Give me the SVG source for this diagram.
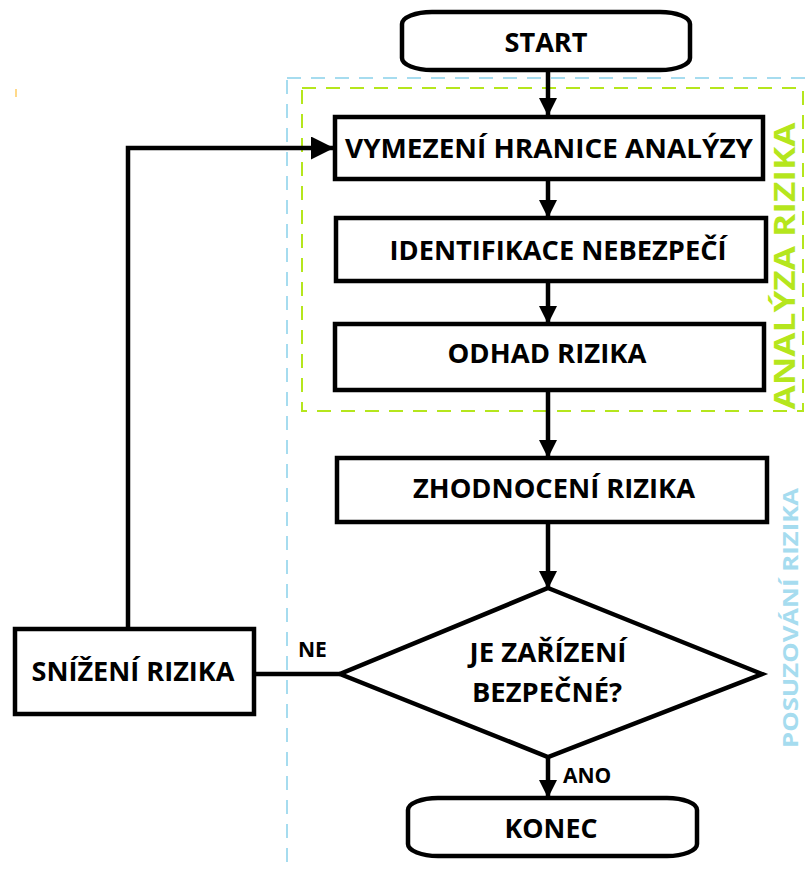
<svg xmlns="http://www.w3.org/2000/svg" width="806" height="870" viewBox="0 0 806 870">
<style>
.box{fill:#fff;stroke:#000;stroke-width:4.5}
.t{font-family:"Open Sans","Liberation Sans",sans-serif;font-weight:700;font-size:27px;fill:#000;text-anchor:middle}
.s{font-size:21px;text-anchor:start}
.c{fill:none;stroke:#000;stroke-width:4.5}
</style>
<defs>
<marker id="ah" markerUnits="userSpaceOnUse" markerWidth="18" markerHeight="18" refX="17" refY="9" orient="auto" viewBox="0 0 18 18">
<path d="M0,0 L18,9 L0,18 z" fill="#000"/>
</marker>
<marker id="ahb" markerUnits="userSpaceOnUse" markerWidth="23" markerHeight="23" refX="22" refY="11.5" orient="auto" viewBox="0 0 23 23">
<path d="M0,0 L23,11.5 L0,23 z" fill="#000"/>
</marker>
</defs>
<rect width="806" height="870" fill="#fff"/>
<rect x="15" y="89" width="2" height="8" fill="#ffd98a"/>
<g id="regions">
<rect x="287" y="78" width="620" height="900" fill="none" stroke="#a6dcef" stroke-width="2" stroke-dasharray="14 10"/>
<rect x="302" y="88" width="501" height="323" fill="none" stroke="#b5e61d" stroke-width="2" stroke-dasharray="14 10"/>
<text transform="translate(795,266) rotate(-90)" x="0" y="0" text-anchor="middle" font-family="Open Sans, Liberation Sans, sans-serif" font-weight="700" font-size="29" fill="#b5e61d" textLength="287" lengthAdjust="spacingAndGlyphs">ANALÝZA RIZIKA</text>
<text transform="translate(798,618) rotate(-90)" x="0" y="0" text-anchor="middle" font-family="Open Sans, Liberation Sans, sans-serif" font-weight="700" font-size="22" fill="#a6dcef" textLength="260" lengthAdjust="spacingAndGlyphs">POSUZOVÁNÍ RIZIKA</text>
</g>
<g id="connectors">
<line class="c" x1="548" y1="70" x2="548" y2="115" marker-end="url(#ah)"/>
<line class="c" x1="548" y1="180" x2="548" y2="217" marker-end="url(#ah)"/>
<line class="c" x1="548" y1="282" x2="548" y2="323" marker-end="url(#ah)"/>
<line class="c" x1="548" y1="391" x2="548" y2="457" marker-end="url(#ah)"/>
<line class="c" x1="548" y1="523" x2="548" y2="588" marker-end="url(#ah)"/>
<line class="c" x1="548" y1="757" x2="548" y2="797" marker-end="url(#ah)"/>
<polyline class="c" points="128,627 128,148 333,148" marker-end="url(#ahb)"/>
<line class="c" x1="340" y1="674" x2="255" y2="674"/>
<text class="t s" x="298" y="657">NE</text>
<text class="t s" x="563" y="783">ANO</text>
</g>
<g id="start">
<rect class="box" x="402" y="12" width="288" height="58" rx="30" ry="12"/>
<text class="t" x="546" y="52" textLength="83" lengthAdjust="spacingAndGlyphs">START</text>
</g>
<g id="vymezeni">
<rect class="box" x="335" y="117" width="428" height="62"/>
<text class="t" x="549" y="158" textLength="408" lengthAdjust="spacingAndGlyphs">VYMEZENÍ HRANICE ANALÝZY</text>
</g>
<g id="identifikace">
<rect class="box" x="336" y="218" width="430" height="63"/>
<text class="t" x="558" y="260" textLength="337" lengthAdjust="spacingAndGlyphs">IDENTIFIKACE NEBEZPEČÍ</text>
</g>
<g id="odhad">
<rect class="box" x="335" y="324" width="429" height="66"/>
<text class="t" x="547" y="363" textLength="199" lengthAdjust="spacingAndGlyphs">ODHAD RIZIKA</text>
</g>
<g id="zhodnoceni">
<rect class="box" x="337" y="458" width="430" height="64"/>
<text class="t" x="554" y="498" textLength="282" lengthAdjust="spacingAndGlyphs">ZHODNOCENÍ RIZIKA</text>
</g>
<g id="decision">
<polygon class="box" points="548,588 762,674 548,757 340,674"/>
<text class="t" x="548" y="662" textLength="157" lengthAdjust="spacingAndGlyphs">JE ZAŘÍZENÍ</text>
<text class="t" x="547" y="702" textLength="150" lengthAdjust="spacingAndGlyphs">BEZPEČNÉ?</text>
</g>
<g id="snizeni">
<rect class="box" x="15" y="629" width="239" height="85"/>
<text class="t" x="133" y="681" textLength="203" lengthAdjust="spacingAndGlyphs">SNÍŽENÍ RIZIKA</text>
</g>
<g id="konec">
<rect class="box" x="408" y="798" width="289" height="58" rx="30" ry="12"/>
<text class="t" x="551" y="838" textLength="93" lengthAdjust="spacingAndGlyphs">KONEC</text>
</g>
</svg>
